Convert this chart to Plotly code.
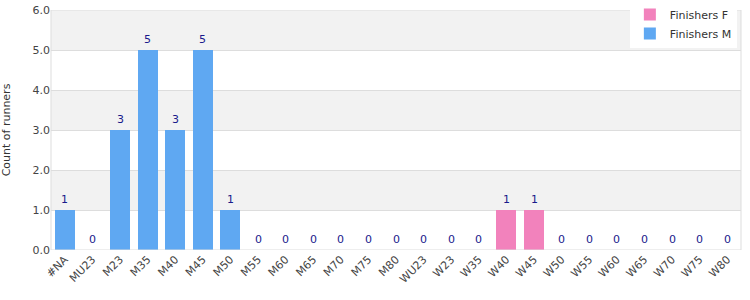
import plotly.graph_objects as go

categories = ["#NA","MU23","M23","M35","M40","M45","M50","M55","M60","M65","M70","M75","M80",
              "WU23","W23","W35","W40","W45","W50","W55","W60","W65","W70","W75","W80"]
finishers_f = [0,0,0,0,0,0,0,0,0,0,0,0,0,0,0,0,1,1,0,0,0,0,0,0,0]
finishers_m = [1,0,3,5,3,5,1,0,0,0,0,0,0,0,0,0,0,0,0,0,0,0,0,0,0]
totals = [f + m for f, m in zip(finishers_f, finishers_m)]

fig = go.Figure()
fig.add_trace(go.Bar(x=categories, y=finishers_f, name="Finishers F",
                     marker=dict(color="#f282bc", line=dict(width=0))))
fig.add_trace(go.Bar(x=categories, y=finishers_m, name="Finishers M",
                     marker=dict(color="#5fa8f2", line=dict(width=0))))

annotations = [dict(x=c, y=t, xref="x", yref="y", text=str(t), showarrow=False,
                    yanchor="bottom", yshift=2,
                    font=dict(color="#1a1a8c", size=11, family="DejaVu Sans"))
               for c, t in zip(categories, totals)]

shapes = []
for lo in [1, 3, 5]:
    shapes.append(dict(type="rect", xref="paper", yref="y", x0=0, x1=1, y0=lo, y1=lo + 1,
                       fillcolor="#f2f2f2", line=dict(width=0), layer="below"))
shapes.append(dict(type="rect", xref="paper", yref="y", x0=0, x1=1, y0=0, y1=6,
                   fillcolor="rgba(0,0,0,0)", line=dict(color="#dddddd", width=1), layer="above"))

fig.update_layout(
    width=750, height=300,
    margin=dict(l=51, r=9, t=0, b=50),
    barmode="stack", bargap=0.28,
    plot_bgcolor="white", paper_bgcolor="white",
    font=dict(family="DejaVu Sans", size=11, color="#444444"),
    shapes=shapes, annotations=annotations,
    legend=dict(x=0.994, y=1.0, xanchor="right", yanchor="top", bgcolor="white",
                font=dict(size=11, color="#333333"), traceorder="normal",
                itemwidth=30, tracegroupgap=0),
    xaxis=dict(tickangle=-45, showgrid=False, tickfont=dict(size=11, color="#444444"),
               showline=False, ticks="", automargin=False),
    yaxis=dict(domain=[0, 0.96], range=[0, 6], dtick=1, tickformat=".1f", showgrid=True,
               gridcolor="#dddddd", zeroline=False, tickfont=dict(size=11, color="#444444"),
               automargin=False,
               title=dict(text="Count of runners", font=dict(size=11, color="#333333"), standoff=19)),
)

fig.write_html("out.html")
